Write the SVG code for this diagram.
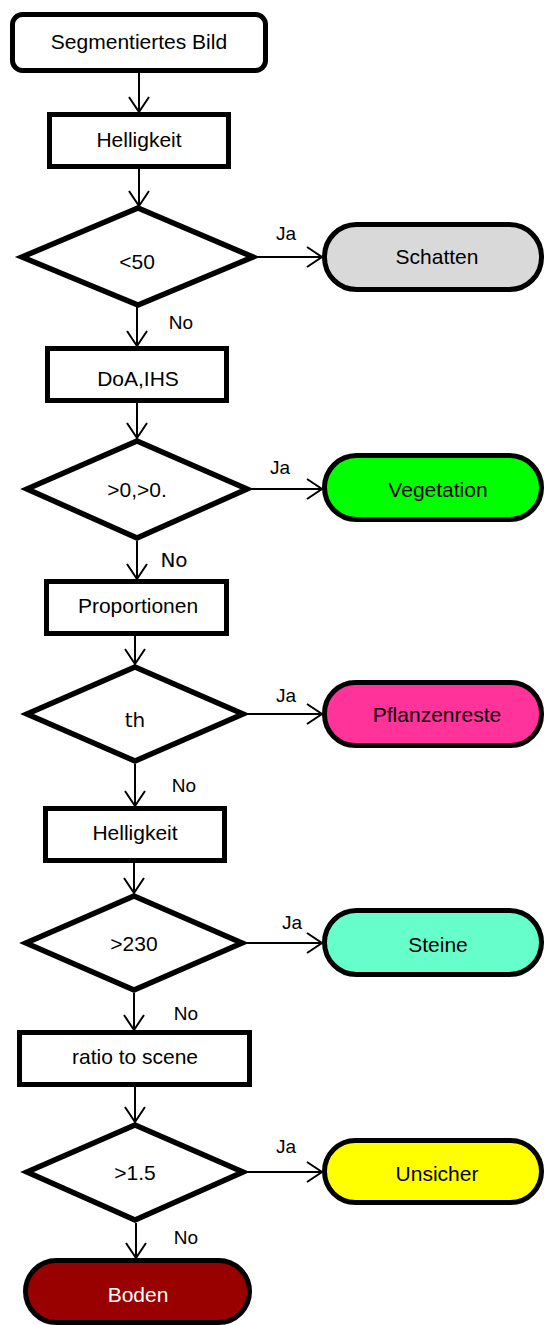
<svg xmlns="http://www.w3.org/2000/svg" width="544" height="1325" viewBox="0 0 544 1325">
<style>
.box{fill:#fff;stroke:#000;stroke-width:5}
.dia{fill:#fff;stroke:#000;stroke-width:5.5;stroke-linejoin:miter}
.t{font-family:"Liberation Sans",Arial,sans-serif;font-size:21px;fill:#000;text-anchor:middle}
.lbl{font-family:"Liberation Sans",Arial,sans-serif;font-size:19px;fill:#000;text-anchor:middle}
.dv{font-family:"DejaVu Sans",sans-serif;font-size:20px;fill:#000;text-anchor:middle}
.c{stroke:#000;stroke-width:2;fill:none}
</style>
<defs>
<marker id="arr" viewBox="-17 -12 19 24" markerWidth="19" markerHeight="24" refX="0" refY="0" orient="auto" markerUnits="userSpaceOnUse">
<path d="M-15,-10 L0,0 L-15,10" fill="none" stroke="#000" stroke-width="2"/>
</marker>
</defs>
<g id="connectors">
<line class="c" x1="139" y1="73" x2="139" y2="112" marker-end="url(#arr)"/>
<line class="c" x1="139" y1="169" x2="139" y2="206" marker-end="url(#arr)"/>
<line class="c" x1="254" y1="257" x2="322" y2="257" marker-end="url(#arr)"/>
<line class="c" x1="137" y1="306" x2="137" y2="346" marker-end="url(#arr)"/>
<line class="c" x1="137" y1="403" x2="137" y2="438" marker-end="url(#arr)"/>
<line class="c" x1="249" y1="489" x2="322" y2="489" marker-end="url(#arr)"/>
<line class="c" x1="137" y1="541" x2="137" y2="579" marker-end="url(#arr)"/>
<line class="c" x1="135" y1="636" x2="135" y2="664" marker-end="url(#arr)"/>
<line class="c" x1="246" y1="714" x2="322" y2="714" marker-end="url(#arr)"/>
<line class="c" x1="135" y1="764" x2="135" y2="806" marker-end="url(#arr)"/>
<line class="c" x1="134" y1="863" x2="134" y2="893" marker-end="url(#arr)"/>
<line class="c" x1="245" y1="943" x2="322" y2="943" marker-end="url(#arr)"/>
<line class="c" x1="134" y1="993" x2="134" y2="1030" marker-end="url(#arr)"/>
<line class="c" x1="135" y1="1087" x2="135" y2="1122" marker-end="url(#arr)"/>
<line class="c" x1="246" y1="1172" x2="322" y2="1172" marker-end="url(#arr)"/>
<line class="c" x1="136" y1="1223" x2="136" y2="1258" marker-end="url(#arr)"/>
<text class="lbl" x="286" y="240">Ja</text>
<text class="lbl" x="181" y="329">No</text>
<text class="lbl" x="280" y="474">Ja</text>
<text class="dv" x="174" y="567">No</text>
<text class="lbl" x="286" y="702">Ja</text>
<text class="lbl" x="184" y="792">No</text>
<text class="lbl" x="292" y="929">Ja</text>
<text class="lbl" x="186" y="1020">No</text>
<text class="lbl" x="286" y="1153">Ja</text>
<text class="lbl" x="186" y="1244">No</text>
</g>
<g id="start"><rect class="box" x="12.5" y="14.5" width="253" height="56" rx="10"/><text class="t" x="139" y="49">Segmentiertes Bild</text></g>
<g id="hell1"><rect class="box" x="49.5" y="114.5" width="179" height="52"/><text class="t" x="139" y="147">Helligkeit</text></g>
<g id="d1"><polygon class="dia" points="138,208 253,257 138,305 22,257"/><text class="t" x="137" y="269">&lt;50</text></g>
<g id="schatten"><rect x="324.5" y="224.5" width="217" height="65" rx="32" fill="#d9d9d9" stroke="#000" stroke-width="5"/><text class="t" x="437" y="264">Schatten</text></g>
<g id="doa"><rect class="box" x="47.5" y="348.5" width="179" height="52"/><text class="t" x="138" y="386">DoA,IHS</text></g>
<g id="d2"><polygon class="dia" points="137,441 247,489 137,538 27,489"/><text class="t" x="137" y="497">&gt;0,&gt;0.</text></g>
<g id="veg"><rect x="324.5" y="455.5" width="217" height="64" rx="32" fill="#00ff00" stroke="#000" stroke-width="5"/><text class="t" x="438" y="497">Vegetation</text></g>
<g id="prop"><rect class="box" x="46.5" y="581.5" width="180" height="52"/><text class="t" x="138" y="613">Proportionen</text></g>
<g id="d3"><polygon class="dia" points="135,667 243,714 135,761 27,714"/><text class="dv" x="135" y="727">th</text></g>
<g id="pfl"><rect x="324.5" y="682.5" width="217" height="63" rx="31" fill="#ff3399" stroke="#000" stroke-width="5"/><text class="t" x="437" y="722">Pflanzenreste</text></g>
<g id="hell2"><rect class="box" x="45.5" y="808.5" width="179" height="52"/><text class="t" x="135" y="840">Helligkeit</text></g>
<g id="d4"><polygon class="dia" points="134,896 242,943 134,990 26,943"/><text class="t" x="134" y="951">&gt;230</text></g>
<g id="steine"><rect x="324.5" y="910.5" width="217" height="64" rx="32" fill="#66ffcc" stroke="#000" stroke-width="5"/><text class="t" x="438" y="952">Steine</text></g>
<g id="ratio"><rect class="box" x="19.5" y="1032.5" width="230" height="52"/><text class="t" x="135" y="1064">ratio to scene</text></g>
<g id="d5"><polygon class="dia" points="135,1125 243,1172 135,1220 27,1172"/><text class="t" x="135" y="1180">&gt;1.5</text></g>
<g id="uns"><rect x="324.5" y="1140.5" width="217" height="62" rx="31" fill="#ffff00" stroke="#000" stroke-width="5"/><text class="t" x="437" y="1181">Unsicher</text></g>
<g id="boden"><rect x="25.5" y="1260.5" width="224" height="62" rx="31" fill="#990000" stroke="#000" stroke-width="5"/><text class="t" x="138" y="1302" style="fill:#fff">Boden</text></g>
</svg>
